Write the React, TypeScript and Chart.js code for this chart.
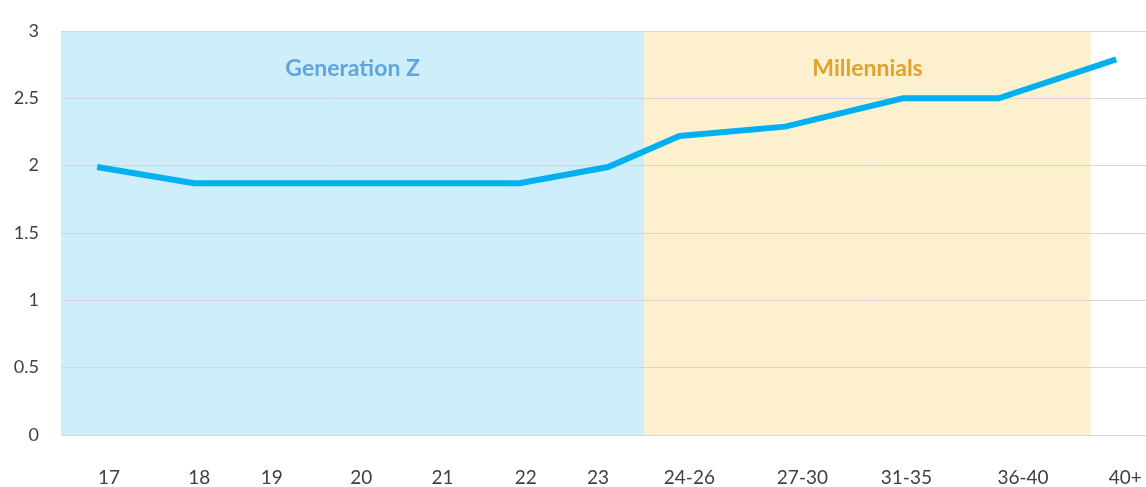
import React, { useEffect, useRef } from "react";
import { Chart, registerables } from "chart.js";

Chart.register(...registerables);

// Categories (age groups) and their tick positions on the horizontal scale (slot units)
const xLabels = ["17", "18", "19", "20", "21", "22", "23", "24-26", "27-30", "31-35", "36-40", "40+"];
const xLabelPositions = [0.53, 1.53, 2.33, 3.32, 4.22, 5.14, 5.94, 6.95, 8.2, 9.35, 10.64, 11.77];

// Series: where each point sits on the same scale, and its value
const pointPositions = [0.4, 1.47, 2.37, 3.27, 4.17, 5.07, 6.05, 6.84, 8.01, 9.31, 10.37, 11.67];
const seriesValues = [1.99, 1.87, 1.87, 1.87, 1.87, 1.87, 1.99, 2.22, 2.29, 2.5, 2.5, 2.79];

// Y ticks
const yTicks = [0, 0.5, 1, 1.5, 2, 2.5, 3];

// Generation bands
const bandNames = ["Generation Z", "Millennials"];
const bandStarts = [0, 6.45];
const bandEnds = [6.45, 11.39];
const bandFills = ["#cdeefa", "#fdf0cf"];
const bandTextColors = ["#62a5de", "#e2a22c"];

const FONT = "Lato, 'Open Sans', sans-serif";

const bandsPlugin = {
  id: "bands",
  beforeDraw(chart: any) {
    const { ctx, chartArea, scales } = chart;
    const x = scales.x;
    ctx.save();
    for (let i = 0; i < bandNames.length; i++) {
      const l = x.getPixelForValue(bandStarts[i]);
      const r = x.getPixelForValue(bandEnds[i]);
      ctx.fillStyle = bandFills[i];
      ctx.fillRect(l, chartArea.top, r - l, chartArea.bottom - chartArea.top);
      ctx.fillStyle = bandTextColors[i];
      ctx.font = `bold 23px ${FONT}`;
      ctx.textAlign = "center";
      ctx.textBaseline = "middle";
      ctx.fillText(bandNames[i], (l + r) / 2, chartArea.top + 38);
    }
    ctx.restore();
  },
};

export default function App() {
  const ref = useRef<HTMLCanvasElement | null>(null);

  useEffect(() => {
    document.body.style.margin = "0";
    document.body.style.overflow = "hidden";
    if (!ref.current) return;
    const data = pointPositions.map((p, i) => ({ x: p, y: seriesValues[i] }));
    const chart = new Chart(ref.current, {
      type: "line",
      data: {
        datasets: [
          {
            data,
            borderColor: "#00b0f0",
            borderWidth: 6,
            pointRadius: 0,
            tension: 0,
            fill: false,
          },
        ],
      },
      options: {
        animation: false,
        responsive: false,
        layout: { padding: { top: 31, right: 0, left: 0, bottom: 0 } },
        plugins: {
          legend: { display: false },
          tooltip: { enabled: false },
        },
        scales: {
          x: {
            type: "linear",
            min: 0,
            max: 12,
            grid: { display: false, drawTicks: false },
            border: { display: false },
            afterBuildTicks: (scale: any) => {
              scale.ticks = xLabelPositions.map((v) => ({ value: v }));
            },
            afterFit: (scale: any) => {
              scale.height = 52;
              scale.paddingLeft = 0;
              scale.paddingRight = 0;
            },
            ticks: {
              autoSkip: false,
              maxRotation: 0,
              padding: 31,
              color: "#404040",
              font: { family: FONT, size: 19 },
              callback: (_v: any, index: number) => xLabels[index],
            },
          },
          y: {
            min: 0,
            max: 3,
            grid: { color: "#d6d6d6", lineWidth: 1, drawTicks: false },
            border: { display: false },
            afterBuildTicks: (scale: any) => {
              scale.ticks = yTicks.map((v) => ({ value: v }));
            },
            afterFit: (scale: any) => {
              scale.width = 61;
              scale.paddingTop = 0;
              scale.paddingBottom = 0;
            },
            ticks: {
              padding: 22,
              color: "#404040",
              font: { family: FONT, size: 18 },
              callback: (v: any) => String(v),
            },
          },
        },
      },
      plugins: [bandsPlugin],
    });
    return () => chart.destroy();
  }, []);

  return (
    <div style={{ width: 1146, height: 487 }}>
      <canvas ref={ref} width={1146} height={487} style={{ display: "block" }} />
    </div>
  );
}
